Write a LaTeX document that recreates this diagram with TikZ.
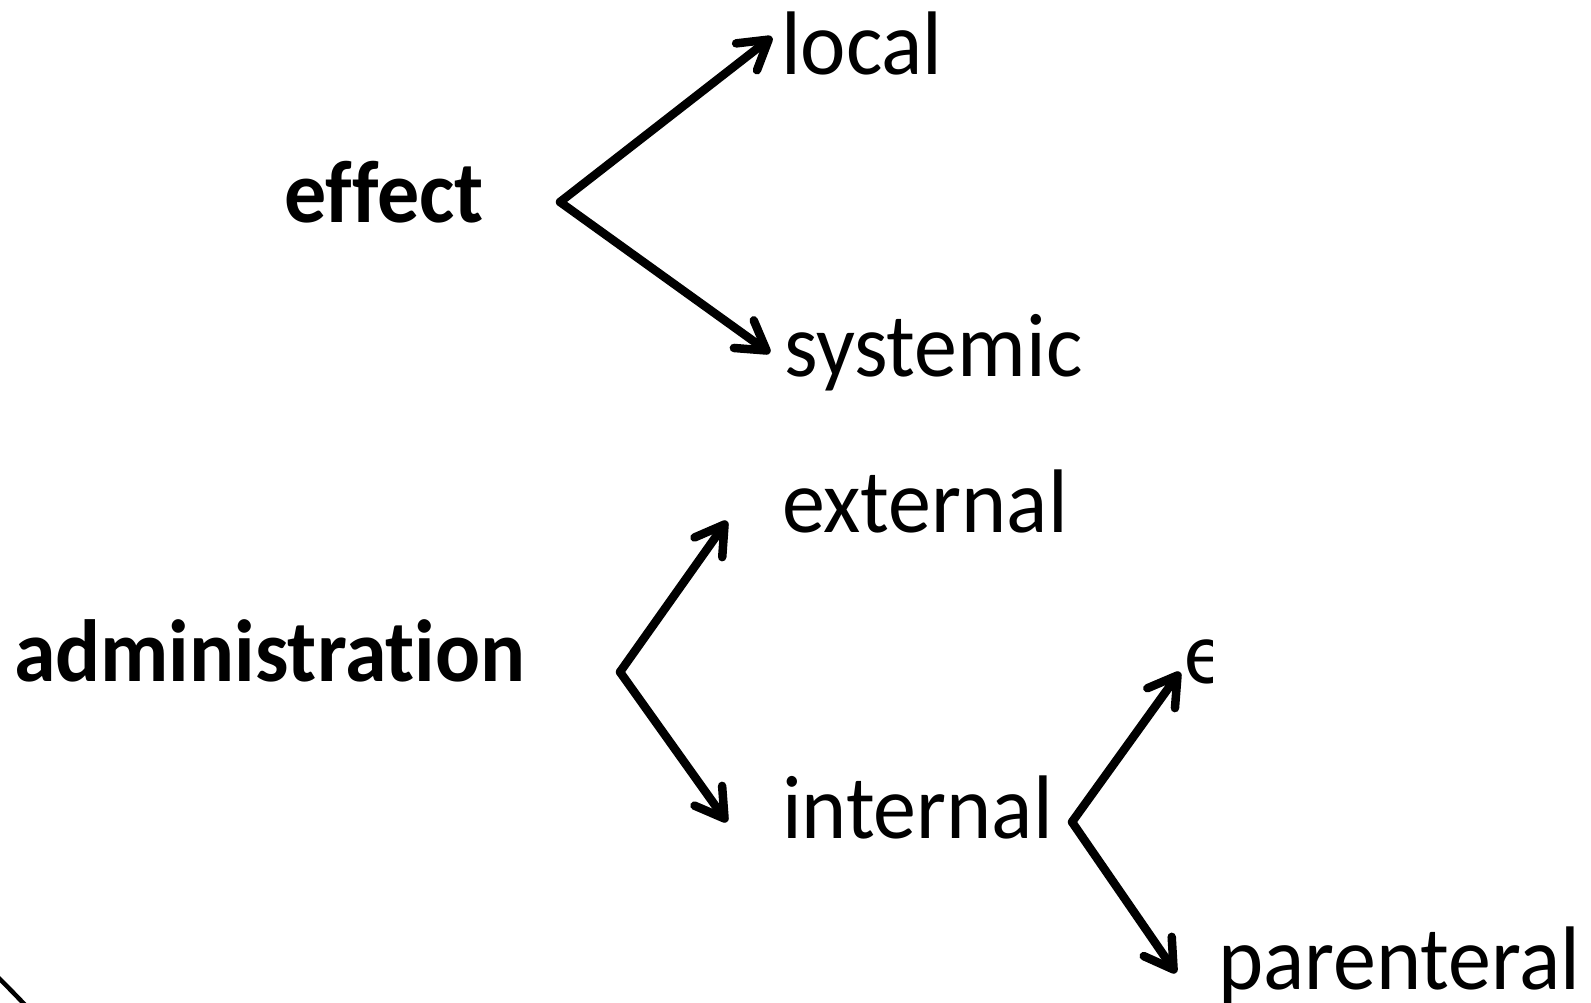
\documentclass[tikz,border=0pt]{standalone}
\usepackage{fontspec}
\setmainfont{Carlito}[Ligatures=NoCommon]
\usetikzlibrary{arrows.meta}
\begin{document}
\begin{tikzpicture}[x=1pt,y=-1pt,
  lbl/.style={inner sep=0pt,outer sep=0pt,anchor=base west,font=\fontsize{86}{94}\selectfont,yscale=1.05},
  blbl/.style={lbl,font=\fontsize{84}{92}\selectfont\bfseries},
  conn/.style={line width=8.5pt,line cap=round,line join=miter,-{Straight Barb[length=28pt,width=34pt,round]}}]
\useasboundingbox (0,0) rectangle (1591,1003);
\clip (0,0) rectangle (1591,1003);
% labels
\node[blbl] (effect) at (284,223) {effect};
\node[blbl] (admin) at (14,681) {administration};
\node[lbl] (local) at (781,75) {local};
\node[lbl] (systemic) at (784,376) {systemic};
\node[lbl] (external) at (782,532) {external};
\node[lbl] (internal) at (782,838) {internal};
\node[lbl] (parenteral) at (1218,989) {parenteral};
\begin{scope}
\clip (1150,600) rectangle (1212,700);
\node[lbl] (enteral) at (1184,683) {enteral};
\end{scope}
% junction points
\coordinate (vE) at (560,202);
\coordinate (tLocal) at (772,37);
\coordinate (tSys) at (770,353);
\coordinate (vA) at (620,672);
\coordinate (tExt) at (727,521);
\coordinate (tInt) at (727,822);
\coordinate (vI) at (1072,822);
\coordinate (tEnt) at (1180,672);
\coordinate (tPar) at (1176,973);
\draw[conn] (vE) -- (tLocal);
\draw[conn] (vE) -- (tSys);
\draw[conn] (vA) -- (tExt);
\draw[conn] (vA) -- (tInt);
\draw[conn] (vI) -- (tEnt);
\draw[conn] (vI) -- (tPar);
% partial circle at lower left
\coordinate (arcA) at (-12,968);
\coordinate (arcB) at (30,1010);
\draw[line width=4.5pt] (arcA) .. controls (3,982) .. (arcB);
\end{tikzpicture}
\end{document}
